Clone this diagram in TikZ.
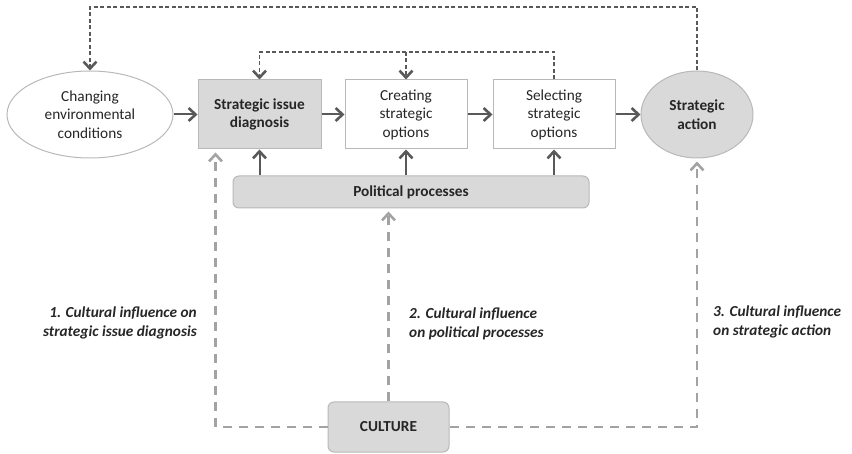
\documentclass[tikz,border=0pt]{standalone}
\usepackage{fontspec}
\setmainfont{Carlito}
\usetikzlibrary{arrows.meta,shapes.geometric}
\definecolor{linegray}{HTML}{595959}
\definecolor{culgray}{HTML}{A3A3A3}
\definecolor{boxfill}{HTML}{D9D9D9}
\definecolor{boxline}{HTML}{B8B8B8}
\definecolor{txt}{HTML}{262626}
\tikzset{
  base/.style={draw=boxline, line width=1pt, text=txt, align=center, inner sep=0pt,
    font=\fontsize{15.3}{18.5}\selectfont},
  boldtext/.style={font=\fontsize{15.3}{18.5}\selectfont\bfseries},
  oval/.style={base, ellipse},
  stepbox/.style={base, rectangle, minimum width=123pt, minimum height=69pt},
  roundbox/.style={base, rectangle, rounded corners=6pt, fill=boxfill, boldtext},
  chev/.style={-{Straight Barb[length=7pt,width=13pt,line width=2.6pt]}},
  flow/.style={draw=linegray, line width=2pt, chev},
  feedback/.style={draw=linegray, line width=1.3pt, dash pattern=on 4pt off 2.5pt, chev},
  culture/.style={draw=culgray, line width=2.2pt, dash pattern=on 9pt off 7pt, chev, shorten >=3pt},
  note/.style={text=txt, inner sep=0pt, font=\fontsize{15.3}{18.5}\selectfont\bfseries\itshape}
}
\begin{document}
\begin{tikzpicture}[x=1pt, y=-1pt]
\useasboundingbox (0,0) rectangle (852,454);

% main chain
\node[oval, minimum width=166pt, minimum height=87pt] (env) at (90,114.5)
  {Changing\\environmental\\conditions};
\node[stepbox, fill=boxfill, boldtext] (sid) at (259.5,114.5)
  {Strategic issue\\diagnosis};
\node[stepbox, fill=white, minimum width=122pt] (cre) at (406,114.5)
  {Creating\\strategic\\options};
\node[stepbox, fill=white, minimum width=122pt] (sel) at (554,114.5)
  {Selecting\\strategic\\options};
\node[oval, fill=boxfill, minimum width=112pt, minimum height=87pt, boldtext] (act) at (697,114.5)
  {Strategic\\action};

\node[roundbox, minimum width=356pt, minimum height=32pt] (pol) at (411,192)
  {Political processes};
\node[roundbox, minimum width=121pt, minimum height=50pt] (cul) at (388.5,427)
  {CULTURE};

% process flow
\draw[flow] (env) -- (sid);
\draw[flow] (sid) -- (cre);
\draw[flow] (cre) -- (sel);
\draw[flow] (sel) -- (act);
\draw[flow] (pol.north -| sid) -- (sid.south);
\draw[flow] (pol.north -| cre) -- (cre.south);
\draw[flow] (pol.north -| sel) -- (sel.south);

% feedback loops
\coordinate (inner) at (0,52);
\coordinate (outer) at (0,7);
\draw[feedback] (sel.north) -- (sel.north |- inner) -| (sid.north);
\draw[feedback] (cre.north |- inner) -- (cre.north);
\draw[feedback] (act.north) -- (act.north |- outer) -| (env.north);

% cultural influences
\coordinate (sidin) at ([xshift=18pt]sid.south west);
\draw[culture] (cul.west) -| (sidin);
\draw[culture] (cul.north) -- (pol.south -| cul.north);
\draw[culture] (cul.east) -| (act.south);

% labels
\node[note, align=right, anchor=east] (n1) at (197,323)
  {1. Cultural influence on\\strategic issue diagnosis};
\node[note, align=left, anchor=west] (n2) at (409,324)
  {2. Cultural influence\\on political processes};
\node[note, align=left, anchor=west] (n3) at (713,322)
  {3. Cultural influence\\on strategic action};
\end{tikzpicture}
\end{document}
